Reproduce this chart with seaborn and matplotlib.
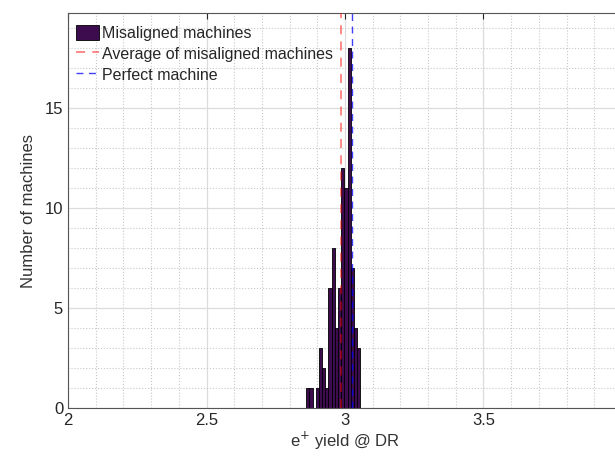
import numpy as np
import pandas as pd
import matplotlib
matplotlib.use("Agg")
import matplotlib.pyplot as plt
import seaborn as sns
from matplotlib.ticker import MultipleLocator

# histogram data
bin_lo = 2.86
bin_hi = 3.055
counts = [1, 1, 0, 1, 3, 2, 1, 6, 8, 4, 6, 12, 11, 18, 7, 4, 3]
avg_yield = 2.985
perfect_yield = 3.025

edges = np.linspace(bin_lo, bin_hi, len(counts) + 1)
centers = (edges[:-1] + edges[1:]) / 2
hist_df = pd.DataFrame({'yield': centers, 'count': counts})

sns.set_style("white")
plt.rcParams['font.family'] = ['Liberation Sans', 'DejaVu Sans']

fig = plt.figure(figsize=(6.15, 4.59), dpi=100)
ax = fig.add_axes([68 / 615, 51 / 459, 554 / 615, 395 / 459])

sns.histplot(data=hist_df, x='yield', weights='count', bins=len(counts),
             binrange=(bin_lo, bin_hi), ax=ax,
             color='#3d0c4f', edgecolor='black', linewidth=0.6, alpha=1,
             label='Misaligned machines')
ax.axvline(avg_yield, color='red', alpha=0.5, ls=(0, (5, 4)), lw=1.3,
           label='Average of misaligned machines', zorder=3)
ax.axvline(perfect_yield, color='blue', alpha=0.75, ls=(0, (5, 4)), lw=1.0,
           label='Perfect machine', zorder=3)

ax.set_xlim(2, 4)
ax.set_ylim(0, 19.75)
ax.xaxis.set_major_locator(MultipleLocator(0.5))
ax.xaxis.set_minor_locator(MultipleLocator(0.1))
ax.yaxis.set_major_locator(MultipleLocator(5))
ax.yaxis.set_minor_locator(MultipleLocator(1))
ax.set_xticks([2, 2.5, 3, 3.5])
ax.set_xticklabels(['2', '2.5', '3', '3.5'])
ax.set_axisbelow(True)
ax.grid(which='major', color='#dcdcdc', ls='-', lw=0.9)
ax.grid(which='minor', color='#c8c8c8', ls=':', lw=0.8)
ax.tick_params(which='both', direction='in', top=True, right=True,
               labelsize=12, colors='#262626', length=4)
ax.tick_params(which='minor', length=0)
for s in ax.spines.values():
    s.set_color('#555555')
    s.set_linewidth(0.8)

ax.set_xlabel('e$^{+}$ yield @ DR', fontsize=12, color='#333333', labelpad=1)
ax.set_ylabel('Number of machines', fontsize=12, color='#333333', labelpad=6)

handles, labels = ax.get_legend_handles_labels()
order = [labels.index('Misaligned machines'),
         labels.index('Average of misaligned machines'),
         labels.index('Perfect machine')]
ax.legend([handles[i] for i in order], [labels[i] for i in order],
          loc='upper left', frameon=False, fontsize=11.5, handlelength=1.45,
          handleheight=1.1, handletextpad=0.2, borderaxespad=0.1,
          bbox_to_anchor=(0, 0.99), labelspacing=0.3)

fig.savefig('out.png', dpi=100)
